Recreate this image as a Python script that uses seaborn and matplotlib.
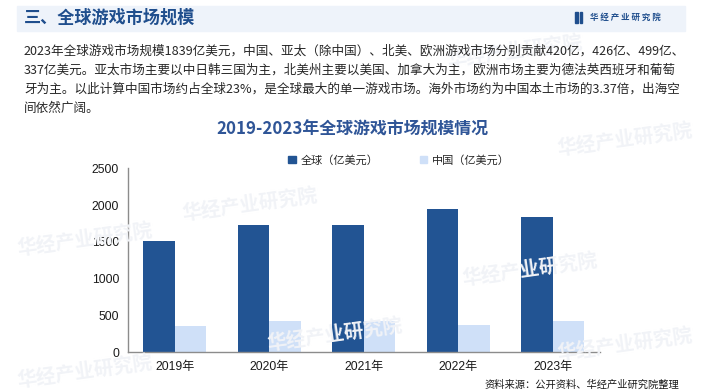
import pandas as pd
import matplotlib.pyplot as plt
import seaborn as sns
from matplotlib.patches import Rectangle, Patch

# chart data (亿美元)
years = ["2019年", "2020年", "2021年", "2022年", "2023年"]
global_size = [1514, 1730, 1728, 1947, 1839]
china_size = [362, 425, 427, 371, 420]
series_names = ["全球（亿美元）", "中国（亿美元）"]
colors = ["#225493", "#cfe0f8"]
y_ticks = [0, 500, 1000, 1500, 2000, 2500]

header = "三、全球游戏市场规模"
title = "2019-2023年全球游戏市场规模情况"
source = "资料来源：公开资料、华经产业研究院整理"
paragraph = [
    "2023年全球游戏市场规模1839亿美元，中国、亚太（除中国）、北美、欧洲游戏市场分别贡献420亿，426亿、499亿、",
    "337亿美元。亚太市场主要以中日韩三国为主，北美州主要以美国、加拿大为主，欧洲市场主要为德法英西班牙和葡萄",
    "牙为主。以此计算中国市场约占全球23%，是全球最大的单一游戏市场。海外市场约为中国本土市场的3.37倍，出海空",
    "间依然广阔。",
]

df = pd.DataFrame({
    "year": years * 2,
    "value": global_size + china_size,
    "series": [series_names[0]] * len(years) + [series_names[1]] * len(years),
})

sns.set_style("white")
plt.rcParams["font.family"] = ["Noto Sans CJK SC", "DejaVu Sans"]
num_font = ["Liberation Sans", "Noto Sans CJK SC"]

fig = plt.figure(figsize=(7.05, 3.92), dpi=100)
W, H = 705, 392

def fx(px):
    return px / W

def fy(py):
    return 1 - py / H

# faint watermarks
for wx, wy in [(515, 52), (85, 240), (250, 205), (335, 335), (530, 270), (85, 372), (625, 140), (625, 345)]:
    fig.text(fx(wx), fy(wy), "华经产业研究院", fontsize=14, fontweight="bold", color="#f1f3f7",
             rotation=8, ha="center", va="center", zorder=0)

# header band
fig.patches.append(Rectangle((fx(17), fy(31)), fx(685) - fx(17), 25 / H,
                             transform=fig.transFigure, color="#eef3fa", zorder=0))
fig.text(fx(24), fy(18), header, fontsize=12.3, fontweight="bold", color="#1f4e8d", va="center")
fig.patches.append(Rectangle((fx(575), fy(23)), 2.5 / W, 11 / H, transform=fig.transFigure, color="#1f4e8d"))
fig.patches.append(Rectangle((fx(579.5), fy(23)), 2.5 / W, 11 / H, transform=fig.transFigure, color="#1f4e8d"))
fig.text(fx(590), fy(17.5), " ".join("华经产业研究院"), fontsize=6.1, fontweight="bold",
         color="#1f4e8d", va="center")

# intro paragraph
for i, line in enumerate(paragraph):
    fig.text(fx(24), fy(51 + i * 19), line, fontsize=9.05, color="#262626", va="center")

fig.text(0.5, fy(130), title, fontsize=12.2, fontweight="bold", color="#2f5597", ha="center", va="center")

ax = fig.add_axes([fx(127.5), fy(352.3), fx(600) - fx(127.5), 184 / H])
ax.patch.set_alpha(0)
sns.barplot(data=df, x="year", y="value", hue="series", palette=colors, width=0.67, gap=0,
            saturation=1, linewidth=0, ax=ax, legend=False)
ax.set_xlim(-0.5, len(years) - 0.5)
ax.set_ylim(0, 2500)
ax.set_yticks(y_ticks)
ax.set_xlabel("")
ax.set_ylabel("")
ax.set_xticks([i - 0.5 for i in range(len(years) + 1)], minor=True)
ax.tick_params(axis="x", which="major", length=0, pad=6)
ax.tick_params(axis="x", which="minor", length=4, color="#8c8c8c", direction="out")
ax.tick_params(axis="y", length=3, color="#8c8c8c", direction="out", pad=3)
for lab in ax.get_xticklabels() + ax.get_yticklabels():
    lab.set_family(num_font)
    lab.set_fontsize(8.7)
    lab.set_color("#1a1a1a")
for side in ["top", "right"]:
    ax.spines[side].set_visible(False)
for side in ["left", "bottom"]:
    ax.spines[side].set_color("#8c8c8c")
    ax.spines[side].set_linewidth(1)

handles = [Patch(color=c, label=n) for c, n in zip(colors, series_names)]
fig.legend(handles=handles, loc="center", bbox_to_anchor=(fx(399), fy(160)), ncol=2, frameon=False,
           fontsize=8, handlelength=0.7, handleheight=0.7, handletextpad=0.4, columnspacing=3.7)

fig.text(fx(679), fy(385), source, fontsize=7.4, color="#1a1a1a", ha="right", va="center")

fig.savefig("out.png", dpi=100)
